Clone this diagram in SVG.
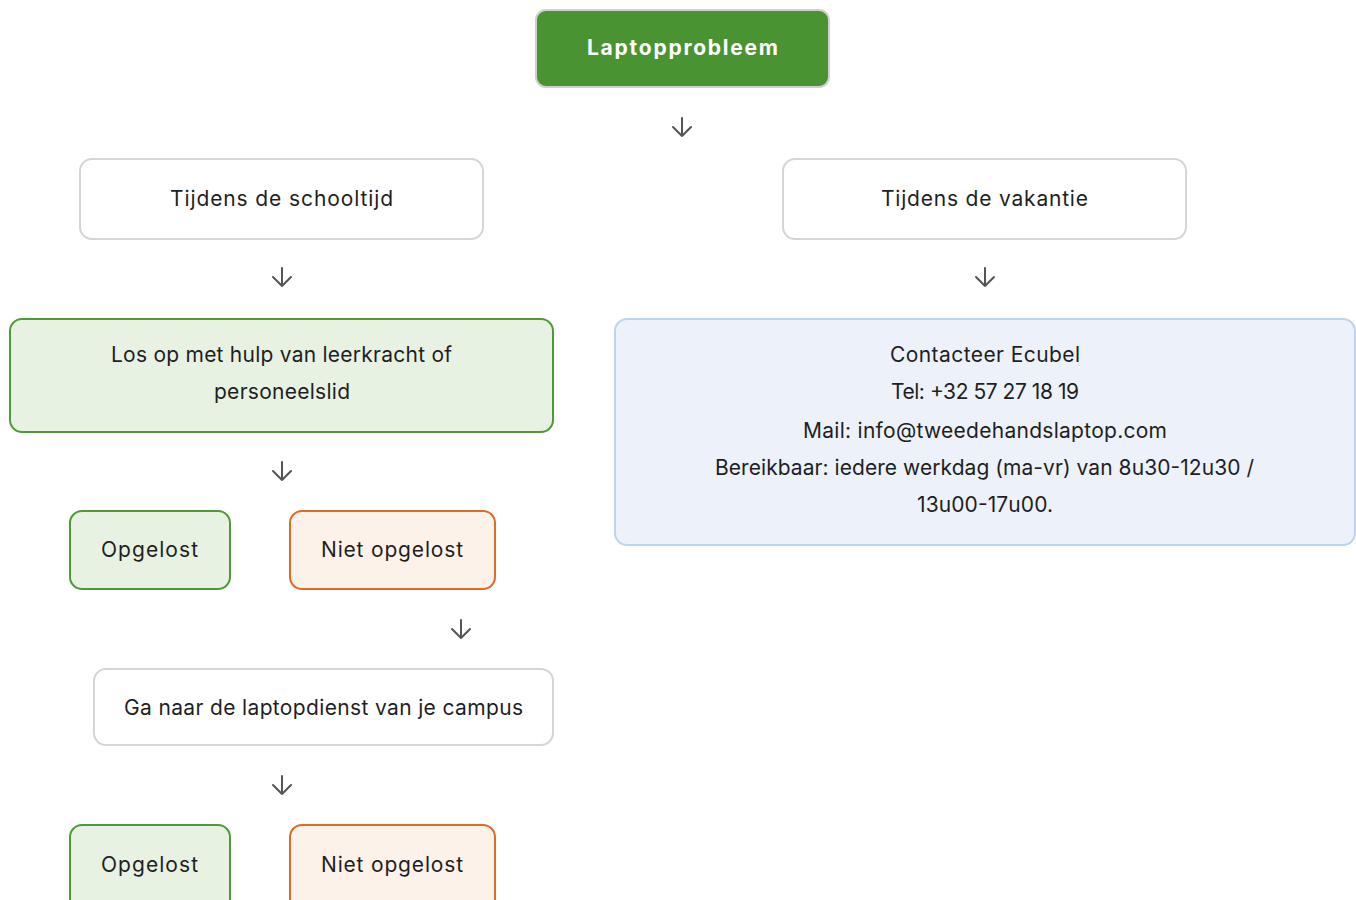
<svg xmlns="http://www.w3.org/2000/svg" width="1356" height="900" viewBox="0 0 1356 900">
<style>
.t{font-family:Inter,"DejaVu Sans",sans-serif;font-size:21px;fill:#1f1f1f;text-anchor:middle}
.b{font-weight:700;fill:#ffffff}
.white{fill:#ffffff;stroke:#d5d5d5;stroke-width:2}
.green{fill:#e8f2e2;stroke:#4f9a36;stroke-width:2}
.orange{fill:#fdf2ea;stroke:#e06b25;stroke-width:2}
.blue{fill:#ecf1fa;stroke:#bcd4ee;stroke-width:2}
.root{fill:#4a9332;stroke:#cfcfcf;stroke-width:2}
.arr{fill:none;stroke:#555555;stroke-width:2;stroke-linecap:round;stroke-linejoin:round}
</style>
<rect width="1356" height="900" fill="#ffffff"/>
<g id="root"><rect class="root" x="536" y="10" width="293" height="77" rx="10"/><text class="t b" x="682.5" y="55" textLength="191">Laptopprobleem</text></g>
<g id="school"><rect class="white" x="80" y="159" width="403" height="80" rx="12"/><text class="t" x="281.5" y="206" textLength="223">Tijdens de schooltijd</text></g>
<g id="vakantie"><rect class="white" x="783" y="159" width="403" height="80" rx="12"/><text class="t" x="984.5" y="206" textLength="207">Tijdens de vakantie</text></g>
<g id="hulp"><rect class="green" x="10" y="319" width="543" height="113" rx="12"/><text class="t" x="281.5" y="362" textLength="341">Los op met hulp van leerkracht of</text><text class="t" x="282" y="399" textLength="136">personeelslid</text></g>
<g id="ecubel"><rect class="blue" x="615" y="319" width="740" height="226" rx="12"/>
<text class="t" x="985" y="362" textLength="190">Contacteer Ecubel</text>
<text class="t" x="985" y="399" textLength="188">Tel: +32 57 27 18 19</text>
<text class="t" x="985" y="438" textLength="364">Mail: info@tweedehandslaptop.com</text>
<text class="t" x="984.5" y="475" textLength="539">Bereikbaar: iedere werkdag (ma-vr) van 8u30-12u30 /</text>
<text class="t" x="985" y="512" textLength="136">13u00-17u00.</text></g>
<g id="opgelost1"><rect class="green" x="70" y="511" width="160" height="78" rx="12"/><text class="t" x="149.5" y="557" textLength="97">Opgelost</text></g>
<g id="niet1"><rect class="orange" x="290" y="511" width="205" height="78" rx="12"/><text class="t" x="392" y="557" textLength="142">Niet opgelost</text></g>
<g id="dienst"><rect class="white" x="94" y="669" width="459" height="76" rx="12"/><text class="t" x="323.5" y="715" textLength="399">Ga naar de laptopdienst van je campus</text></g>
<g id="opgelost2"><rect class="green" x="70" y="825" width="160" height="90" rx="12"/><text class="t" x="149.5" y="872" textLength="97">Opgelost</text></g>
<g id="niet2"><rect class="orange" x="290" y="825" width="205" height="90" rx="12"/><text class="t" x="392" y="872" textLength="142">Niet opgelost</text></g>
<g id="connectors">
<path class="arr" d="M682 118V136M673 127L682 136L691 127"/>
<path class="arr" d="M282 268V286M273 277L282 286L291 277"/>
<path class="arr" d="M985 268V286M976 277L985 286L994 277"/>
<path class="arr" d="M282 462V480M273 471L282 480L291 471"/>
<path class="arr" d="M461 620V638M452 629L461 638L470 629"/>
<path class="arr" d="M282 776V794M273 785L282 794L291 785"/>
</g>
</svg>
